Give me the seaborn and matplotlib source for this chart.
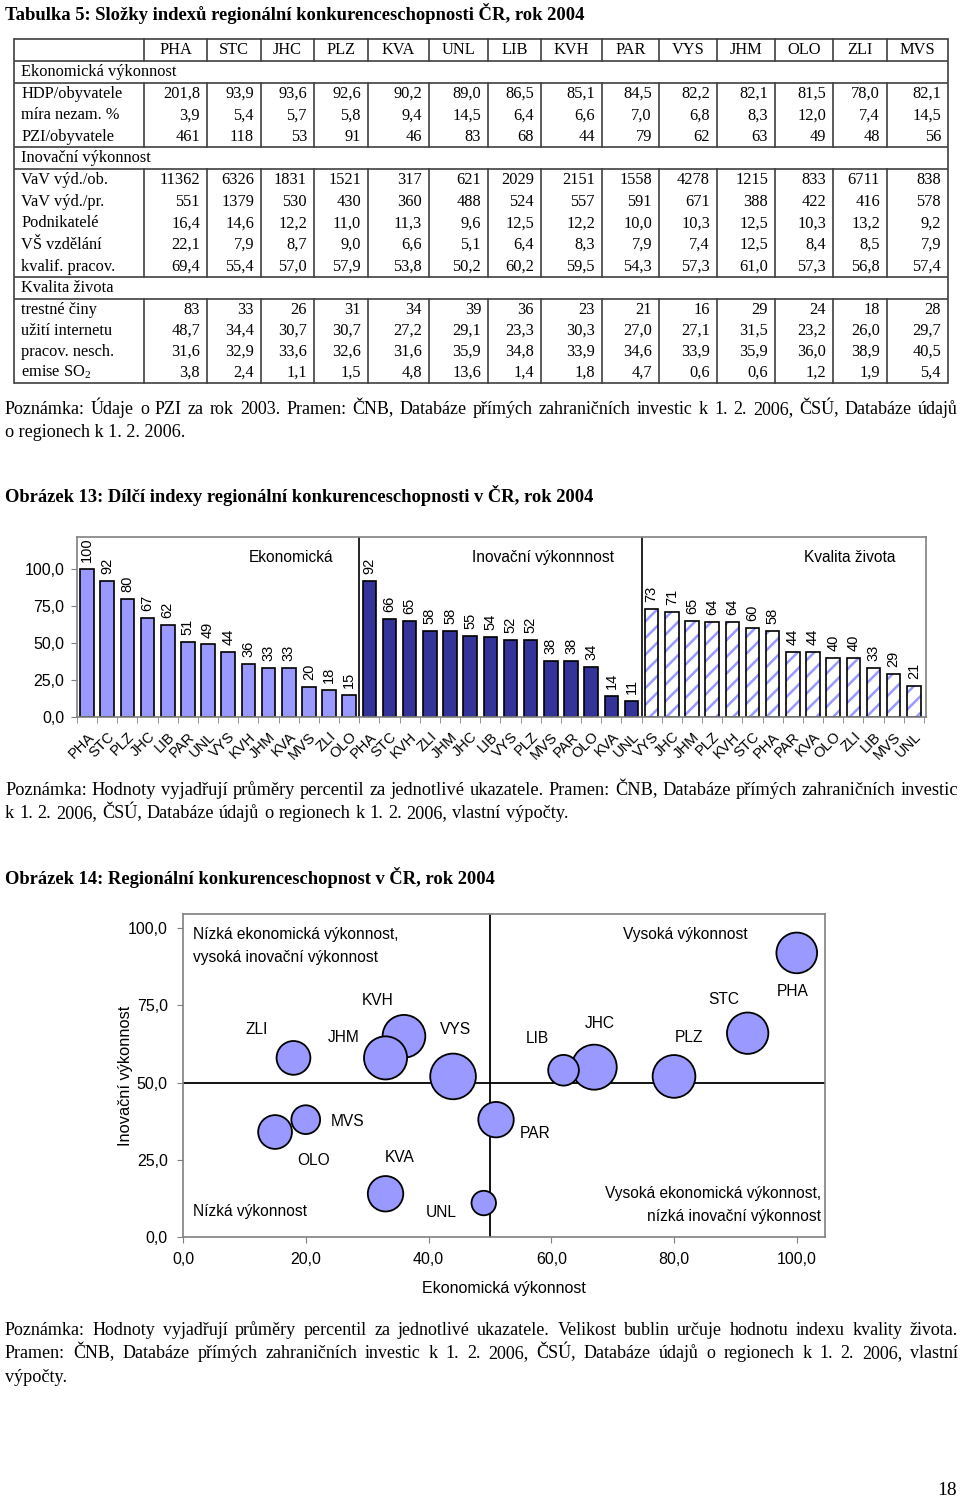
import matplotlib
matplotlib.use("Agg")
import matplotlib.pyplot as plt
import seaborn as sns
import numpy as np
import pandas as pd

# ---------------- data ----------------
regions = ["PHA", "STC", "JHC", "PLZ", "KVA", "UNL", "LIB", "KVH", "PAR", "VYS", "JHM", "OLO", "ZLI", "MVS"]
hdp = [201.8, 93.9, 93.6, 92.6, 90.2, 89.0, 86.5, 85.1, 84.5, 82.2, 82.1, 81.5, 78.0, 82.1]
nezam = [3.9, 5.4, 5.7, 5.8, 9.4, 14.5, 6.4, 6.6, 7.0, 6.8, 8.3, 12.0, 7.4, 14.5]
pzi = [461, 118, 53, 91, 46, 83, 68, 44, 79, 62, 63, 49, 48, 56]
vav_ob = [11362, 6326, 1831, 1521, 317, 621, 2029, 2151, 1558, 4278, 1215, 833, 6711, 838]
vav_pr = [551, 1379, 530, 430, 360, 488, 524, 557, 591, 671, 388, 422, 416, 578]
podnik = [16.4, 14.6, 12.2, 11.0, 11.3, 9.6, 12.5, 12.2, 10.0, 10.3, 12.5, 10.3, 13.2, 9.2]
vs_vzd = [22.1, 7.9, 8.7, 9.0, 6.6, 5.1, 6.4, 8.3, 7.9, 7.4, 12.5, 8.4, 8.5, 7.9]
kvalif = [69.4, 55.4, 57.0, 57.9, 53.8, 50.2, 60.2, 59.5, 54.3, 57.3, 61.0, 57.3, 56.8, 57.4]
trestne = [83, 33, 26, 31, 34, 39, 36, 23, 21, 16, 29, 24, 18, 28]
internet = [48.7, 34.4, 30.7, 30.7, 27.2, 29.1, 23.3, 30.3, 27.0, 27.1, 31.5, 23.2, 26.0, 29.7]
nesch = [31.6, 32.9, 33.6, 32.6, 31.6, 35.9, 34.8, 33.9, 34.6, 33.9, 35.9, 36.0, 38.9, 40.5]
so2 = [3.8, 2.4, 1.1, 1.5, 4.8, 13.6, 1.4, 1.8, 4.7, 0.6, 0.6, 1.2, 1.9, 5.4]

# composite indices (same region order as above)
econ = [100, 92, 67, 80, 33, 49, 62, 36, 51, 44, 33, 15, 18, 20]
inno = [92, 66, 55, 52, 14, 11, 54, 65, 38, 52, 58, 34, 58, 38]
qual = [58, 60, 71, 64, 44, 21, 33, 64, 44, 73, 65, 40, 40, 29]

econ_order = ["PHA", "STC", "PLZ", "JHC", "LIB", "PAR", "UNL", "VYS", "KVH", "JHM", "KVA", "MVS", "ZLI", "OLO"]
inno_order = ["PHA", "STC", "KVH", "ZLI", "JHM", "JHC", "LIB", "VYS", "PLZ", "MVS", "PAR", "OLO", "KVA", "UNL"]
qual_order = ["VYS", "JHC", "JHM", "PLZ", "KVH", "STC", "PHA", "PAR", "KVA", "OLO", "ZLI", "LIB", "MVS", "UNL"]
group_names = ["Ekonomická", "Inovační výkonnnost", "Kvalita života"]

# ---------------- style ----------------
SERIF = "Liberation Serif"
SANS = "Liberation Sans"
plt.rcParams["font.family"] = [SANS, "DejaVu Sans"]
plt.rcParams["mathtext.fontset"] = "custom"
plt.rcParams["mathtext.rm"] = SERIF
plt.rcParams["mathtext.it"] = SERIF
plt.rcParams["hatch.linewidth"] = 1.8

C_LIGHT = "#9999FF"
C_DARK = "#333399"
GRAY = "#808080"

fig = plt.figure(figsize=(9.6, 15.01), dpi=100)
pg = fig.add_axes([0, 0, 1, 1], zorder=0)
pg.set_xlim(0, 960)
pg.set_ylim(1501, 0)
pg.axis("off")
renderer = fig.canvas.get_renderer()


def text_width(s, size, weight="normal"):
    t = pg.text(0, 0, s, fontsize=size, family=SERIF, weight=weight)
    w = t.get_window_extent(renderer).width
    t.remove()
    return w


def put(x, y, s, size, weight="normal", ha="left"):
    # y is the visual centre of the line; place on the baseline so accents do not shift words
    yb = y + 0.233 * size * 100 / 72
    pg.text(x, yb, s, fontsize=size, family=SERIF, weight=weight, va="baseline", ha=ha)


def page_line(s, x0, y, size, weight="normal", x1=None, mode="left", max_size=13.0):
    if mode == "fit":
        w = text_width(s, size, weight)
        size = size * (x1 - x0) / w
        put(x0, y, s, size, weight)
        return
    if mode == "left":
        put(x0, y, s, size, weight)
        return
    words = s.split(" ")
    span = x1 - x0
    nat = text_width(s, size)
    size = min(size * span / nat * 0.995, max_size)
    widths = [text_width(w_, size) for w_ in words]
    total = sum(widths)
    gap = (span - total) / (len(words) - 1)
    x = x0
    for w_, wd in zip(words, widths):
        put(x, y, w_, size)
        x += wd + gap


def fmt(v, d):
    return (f"{v:.{d}f}").replace(".", ",")


# ---------------- headings & notes ----------------
page_line("Tabulka 5: Složky indexů regionální konkurenceschopnosti ČR, rok 2004", 5, 16, 12.5, "bold", 585, "fit")
page_line("Poznámka: Údaje o PZI za rok 2003. Pramen: ČNB, Databáze přímých zahraničních investic k 1. 2. 2006, ČSÚ, Databáze údajů",
          5, 410, 12.5, x1=958, mode="justify")
page_line("o regionech k 1. 2. 2006.", 5, 433, 12.5, x1=186, mode="fit")
page_line("Obrázek 13: Dílčí indexy regionální konkurenceschopnosti v ČR, rok 2004", 5, 498, 12.5, "bold", 593, "fit")
page_line("Poznámka: Hodnoty vyjadřují průměry percentil za jednotlivé ukazatele. Pramen: ČNB, Databáze přímých zahraničních investic",
          5, 791, 12.5, x1=958, mode="justify", max_size=13.6)
page_line("k 1. 2. 2006, ČSÚ, Databáze údajů o regionech k 1. 2. 2006, vlastní výpočty.", 5, 814, 12.5, x1=568,
          mode="justify", max_size=13.6)
page_line("Obrázek 14: Regionální konkurenceschopnost v ČR, rok 2004", 5, 880, 12.5, "bold", 495, "fit")
page_line("Poznámka: Hodnoty vyjadřují průměry percentil za jednotlivé ukazatele. Velikost bublin určuje hodnotu indexu kvality života.",
          5, 1331, 12.5, x1=958, mode="justify")
page_line("Pramen: ČNB, Databáze přímých zahraničních investic k 1. 2. 2006, ČSÚ, Databáze údajů o regionech k 1. 2. 2006, vlastní",
          5, 1354, 12.5, x1=958, mode="justify")
page_line("výpočty.", 5, 1378, 12.5, x1=67, mode="fit")
put(957, 1490, "18", 14, ha="right")

# ---------------- table ----------------
col_x = [14, 144, 207, 261, 314, 368, 429, 488, 541, 602, 659, 717, 775, 833, 887, 948]
LC = "#404040"
TS = 11.8
h_lines = [39, 61, 83, 147, 169, 277, 299, 383]
for y in h_lines:
    pg.plot([col_x[0], col_x[-1]], [y, y], color=LC, lw=1.2, solid_capstyle="butt")
for x in (col_x[0], col_x[-1]):
    pg.plot([x, x], [39, 383], color=LC, lw=1.2)
for (ya, yb) in [(39, 61), (83, 147), (169, 277), (299, 383)]:
    for x in col_x[1:-1]:
        pg.plot([x, x], [ya, yb], color=LC, lw=1.2)

for i, r in enumerate(regions):
    put((col_x[i + 1] + col_x[i + 2]) / 2, 50.5, r, TS, ha="center")

sections = [
    ("Ekonomická výkonnost", 72, 83, 147, [("HDP/obyvatele", hdp, 1), ("míra nezam. %", nezam, 1), ("PZI/obyvatele", pzi, 0)]),
    ("Inovační výkonnost", 158, 169, 277, [("VaV výd./ob.", vav_ob, 0), ("VaV výd./pr.", vav_pr, 0), ("Podnikatelé", podnik, 1),
                                            ("VŠ vzdělání", vs_vzd, 1), ("kvalif. pracov.", kvalif, 1)]),
    ("Kvalita života", 288, 299, 383, [("trestné činy", trestne, 0), ("užití internetu", internet, 1),
                                       ("pracov. nesch.", nesch, 1), ("emise SO$_\\mathregular{2}$", so2, 1)]),
]
for title, ty, ya, yb, rows in sections:
    put(21, ty, title, TS)
    rh = (yb - ya) / len(rows)
    for k, (lab, vals, d) in enumerate(rows):
        yc = ya + rh * (k + 0.5) + 0.5
        put(21, yc, lab, TS)
        for i, v in enumerate(vals):
            put(col_x[i + 2] - 7, yc, fmt(v, d), TS, ha="right")

# ---------------- bar chart (Obrázek 13) ----------------
e_map = dict(zip(regions, econ))
i_map = dict(zip(regions, inno))
q_map = dict(zip(regions, qual))
bar_labels = econ_order + inno_order + qual_order
bar_vals = [e_map[r] for r in econ_order] + [i_map[r] for r in inno_order] + [q_map[r] for r in qual_order]
bar_group = [group_names[0]] * 14 + [group_names[1]] * 14 + [group_names[2]] * 14
bars = pd.DataFrame({"pos": np.arange(len(bar_vals)), "value": bar_vals, "group": bar_group})

ax1 = fig.add_axes([77 / 960, 1 - 717 / 1501, (926 - 77) / 960, 180 / 1501], zorder=2)
pal = {group_names[0]: C_LIGHT, group_names[1]: C_DARK, group_names[2]: "white"}
sns.barplot(data=bars, x="pos", y="value", hue="group", palette=pal, dodge=False, native_scale=True,
            width=0.67, edgecolor="black", linewidth=1.2, legend=False, ax=ax1, saturation=1)
# hatch for quality group
for p in ax1.containers[2]:
    p.set_hatch("//")
    p.set_edgecolor(C_LIGHT)
    p.set_linewidth(0)
sns.barplot(data=bars[bars["group"] == group_names[2]], x="pos", y="value", native_scale=True,
            width=0.67, fill=False, color="black", linewidth=1.2, legend=False, ax=ax1)
for cont in ax1.containers[:3]:
    ax1.bar_label(cont, fmt="{:.0f}", rotation=90, padding=5, fontsize=10.5)

ax1.set_xlim(-0.42, 41.6)
ax1.set_ylim(0, 121.6)
ax1.axvline(13.5, color="black", lw=1.2)
ax1.axvline(27.5, color="black", lw=1.2)
ax1.set_yticks([0, 25, 50, 75, 100])
ax1.set_yticklabels([fmt(v, 1) for v in [0, 25, 50, 75, 100]], fontsize=11.5)
ax1.set_xticks(np.arange(42))
ax1.set_xticklabels(bar_labels, rotation=45, ha="right", rotation_mode="anchor", fontsize=10.5)
ax1.set_xticks(np.arange(-0.5, 42, 1), minor=True)
ax1.tick_params(axis="x", which="major", length=0, pad=9)
ax1.tick_params(axis="x", which="minor", length=4, color=GRAY, direction="out")
ax1.tick_params(axis="y", length=4, color=GRAY, direction="out", pad=5)
ax1.set_xlabel("")
ax1.set_ylabel("")
for s in ax1.spines.values():
    s.set_color(GRAY)
    s.set_linewidth(1.2)
for xc, name in zip([10.1, 22.6, 37.8], group_names):
    ax1.text(xc, 107.5, name, fontsize=11.2, ha="center", va="center")

# ---------------- bubble chart (Obrázek 14) ----------------
bub = pd.DataFrame({"region": regions, "econ": econ, "inno": inno, "qual": qual})
ax2 = fig.add_axes([183 / 960, 1 - 1237 / 1501, (825 - 183) / 960, (1237 - 914) / 1501], zorder=2)
ax2.axhline(50, color="black", lw=1.3, zorder=1)
ax2.axvline(50, color="black", lw=1.3, zorder=1)
k_area = 14.8
sns.scatterplot(data=bub, x="econ", y="inno", size="qual", sizes=(k_area * min(qual), k_area * max(qual)),
                size_norm=(min(qual), max(qual)), color=C_LIGHT, edgecolor="black", linewidth=1.3,
                alpha=1, legend=False, ax=ax2, zorder=3)
label_off = {"ZLI": (-37, -28), "JHM": (-42, -20), "KVH": (-26, -36), "VYS": (2, -47), "MVS": (42, 2),
             "OLO": (38, 28), "KVA": (14, -36), "UNL": (-42, 9), "PAR": (39, 14), "LIB": (-26, -32),
             "JHC": (6, -44), "PLZ": (15, -39), "STC": (-24, -34), "PHA": (-4, 39)}
for r, xv, yv in zip(regions, econ, inno):
    dx, dy = label_off[r]
    ax2.annotate(r, (xv, yv), xytext=(dx, -dy), textcoords="offset pixels", ha="center", va="center",
                 fontsize=11.2, zorder=4)
ax2.set_xlim(0, 104.6)
ax2.set_ylim(0, 104.6)
ax2.set_xticks([0, 20, 40, 60, 80, 100])
ax2.set_xticklabels([fmt(v, 1) for v in [0, 20, 40, 60, 80, 100]], fontsize=11.5)
ax2.set_yticks([0, 25, 50, 75, 100])
ax2.set_yticklabels([fmt(v, 1) for v in [0, 25, 50, 75, 100]], fontsize=11.5)
ax2.tick_params(length=4, color=GRAY, direction="out", pad=7)
ax2.set_xlabel("Ekonomická výkonnost", fontsize=11.5, labelpad=10)
ax2.set_ylabel("Inovační výkonnost", fontsize=11.8, labelpad=-4)
for s in ax2.spines.values():
    s.set_color(GRAY)
    s.set_linewidth(1.2)
ax2.text(1.6, 98, "Nízká ekonomická výkonnost,", fontsize=11.2, ha="left", va="center")
ax2.text(1.6, 90.6, "vysoká inovační výkonnost", fontsize=11.2, ha="left", va="center")
ax2.text(71.7, 98, "Vysoká výkonnost", fontsize=11.2, ha="left", va="center")
ax2.text(1.6, 8.4, "Nízká výkonnost", fontsize=11.2, ha="left", va="center")
ax2.text(103.9, 14, "Vysoká ekonomická výkonnost,", fontsize=11.2, ha="right", va="center")
ax2.text(103.9, 6.5, "nízká inovační výkonnost", fontsize=11.2, ha="right", va="center")

fig.savefig("out.png", dpi=100)
